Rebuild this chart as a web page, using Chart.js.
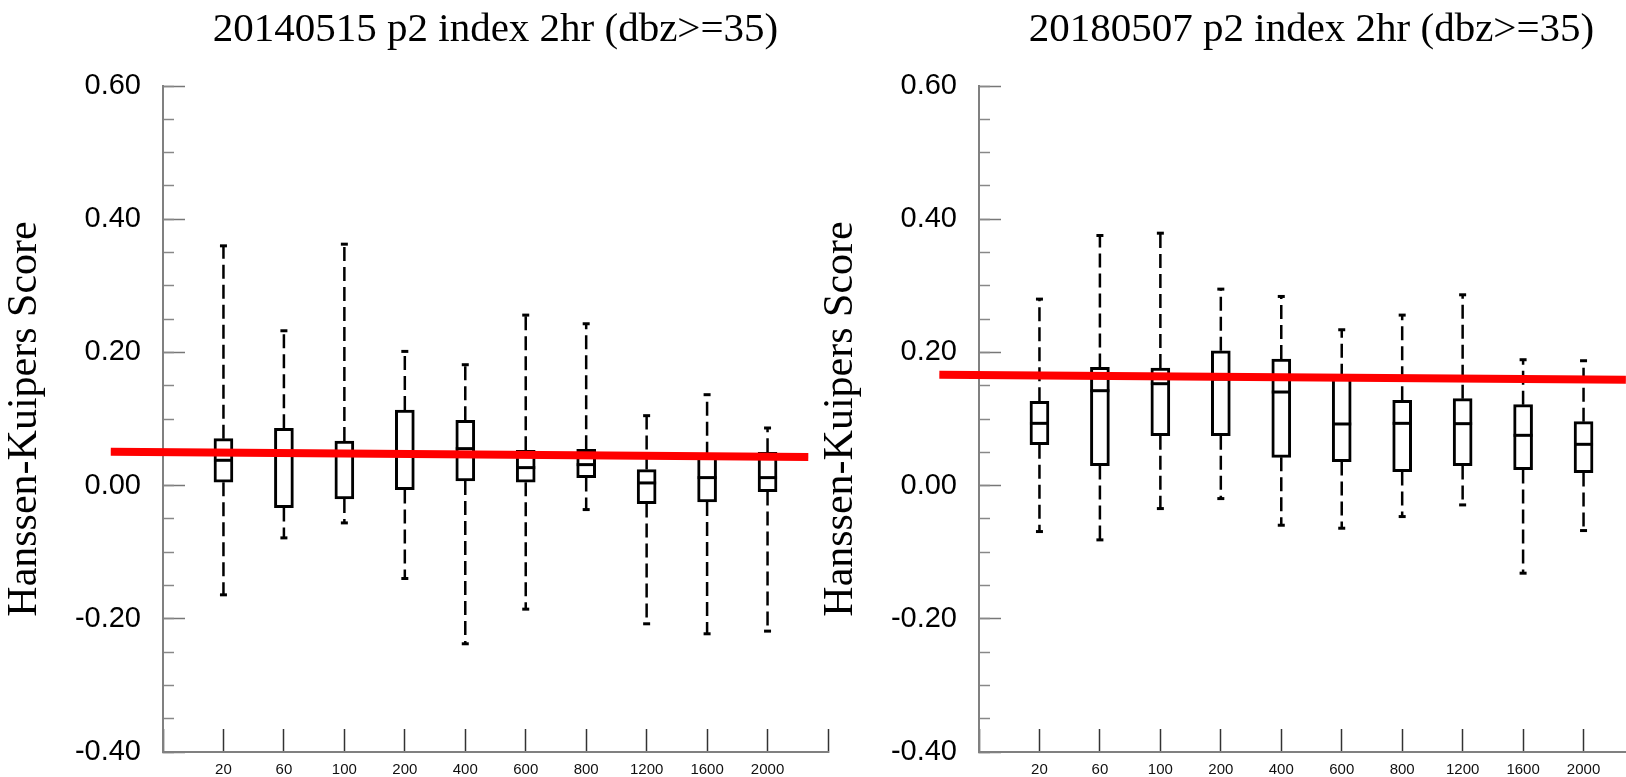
<!DOCTYPE html>
<html>
<head>
<meta charset="utf-8">
<title>Hanssen-Kuipers Score p2 index 2hr</title>
<script src="https://cdn.jsdelivr.net/npm/chart.js@4.4.1/dist/chart.umd.min.js"></script>
<style>
  html, body { margin: 0; padding: 0; background: #fff; overflow: hidden; }
  .page { position: relative; width: 1626px; height: 777px; overflow: hidden; }
  .panel { position: absolute; top: 0; }
</style>
</head>
<body>
<div class="page">
  <canvas id="case2014" class="panel" width="860" height="777" style="left:0"></canvas>
  <canvas id="case2018" class="panel" width="860" height="777" style="left:816px"></canvas>
</div>
<script>
// radius categories along the x axis
const sizes = ['20', '60', '100', '200', '400', '600', '800', '1200', '1600', '2000'];

// 20140515 box statistics
const max2014 = [0.360, 0.2325, 0.3625, 0.2015, 0.1815, 0.256, 0.243, 0.105, 0.1365, 0.0865];
const q3_2014 = [0.0705, 0.086, 0.067, 0.1135, 0.098, 0.053, 0.0545, 0.024, 0.045, 0.050];
const med2014 = [0.038, 0.049, 0.048, 0.047, 0.0555, 0.027, 0.0315, 0.004, 0.012, 0.012];
const q1_2014 = [0.005, -0.033, -0.020, -0.006, 0.007, 0.005, 0.012, -0.027, -0.0245, -0.009];
const min2014 = [-0.164, -0.0785, -0.056, -0.1395, -0.2375, -0.1855, -0.036, -0.2075, -0.2225, -0.2185];
const trendX2014 = [-0.864, 10.674];
const trendY2014 = [0.0507, 0.0428];

// 20180507 box statistics
const max2018 = [0.280, 0.3755, 0.379, 0.295, 0.284, 0.234, 0.256, 0.2865, 0.189, 0.1875];
const q3_2018 = [0.1265, 0.1775, 0.1765, 0.2025, 0.190, 0.162, 0.128, 0.1305, 0.1215, 0.096];
const med2018 = [0.0935, 0.1425, 0.153, 0.160, 0.1405, 0.0925, 0.0935, 0.093, 0.0755, 0.062];
const q1_2018 = [0.0615, 0.030, 0.075, 0.075, 0.0425, 0.036, 0.021, 0.030, 0.024, 0.0195];
const min2018 = [-0.069, -0.0815, -0.0345, -0.0195, -0.0595, -0.064, -0.0465, -0.029, -0.1315, -0.0675];
const trendX2018 = [-0.656, 10.7];
const trendY2018 = [0.1665, 0.159];

function boxChart(id, title, mx, q3, med, q1, mn, trendX, trendY) {
  const pos = sizes.map((s, i) => i + 1);
  const boxes = pos.map((x, i) => ({x: x, y: [q1[i], q3[i]]}));
  const medians = pos.map((x, i) => ({x: x, y: med[i]}));
  const caps = pos.flatMap((x, i) => [{x: x, y: mx[i]}, {x: x, y: mn[i]}]);
  // null points split the whiskers into separate dashed pieces
  const whiskers = pos.flatMap((x, i) => [
    {x: x, y: q3[i]}, {x: x, y: mx[i]}, {x: x, y: null},
    {x: x, y: q1[i]}, {x: x, y: mn[i]}, {x: x, y: null}
  ]);
  const trend = trendX.map((x, i) => ({x: x, y: trendY[i]}));

  return new Chart(document.getElementById(id), {
    type: 'bar',
    data: {
      datasets: [
        { type: 'line', data: trend, xAxisID: 'x', yAxisID: 'y', borderColor: '#ff0000', borderWidth: 8,
          pointRadius: 0, clip: false, order: 0 },
        { type: 'scatter', data: medians, xAxisID: 'x', yAxisID: 'y', pointStyle: 'line', pointRadius: 9.5,
          pointBorderWidth: 3, pointBorderColor: '#000', order: 1 },
        { type: 'scatter', data: caps, xAxisID: 'x', yAxisID: 'y', pointStyle: 'line', pointRadius: 3.5,
          pointBorderWidth: 3, pointBorderColor: '#000', order: 2 },
        { type: 'line', data: whiskers, xAxisID: 'x', yAxisID: 'y', borderColor: '#000', borderWidth: 2.5,
          borderDash: [14, 6], pointRadius: 0, spanGaps: false, order: 3 },
        { type: 'bar', data: boxes, xAxisID: 'x', yAxisID: 'y', backgroundColor: '#fff', borderColor: '#000',
          borderWidth: 3, borderSkipped: false, barThickness: 19, order: 4 }
      ]
    },
    options: {
      responsive: false,
      animation: false,
      events: [],
      layout: { padding: { left: 0, right: 31, top: 0, bottom: 0 } },
      plugins: {
        legend: { display: false },
        tooltip: { enabled: false },
        title: {
          display: true, text: title, fullSize: false, color: '#000',
          font: { family: 'Liberation Serif', size: 41, weight: 'normal' },
          padding: { top: 6, bottom: 30.8 }
        }
      },
      scales: {
        x: {
          type: 'linear', min: 0, max: 11, offset: false,
          grid: { drawOnChartArea: false, offset: false, tickLength: -23, tickColor: '#333', tickWidth: 1.5 },
          border: { color: '#808080', width: 2 },
          ticks: {
            stepSize: 1, autoSkip: false, maxRotation: 0, minRotation: 0, padding: 32, color: '#111',
            font: { family: 'Liberation Sans', size: 15 },
            callback: v => sizes[Math.round(v) - 1] || ''
          },
          afterFit: s => { s.height = 25; }
        },
        y: {
          type: 'linear', position: 'left', min: -0.4, max: 0.6, weight: 1,
          grid: { drawOnChartArea: false, tickLength: -22, tickColor: '#777', tickWidth: 1.5 },
          border: { color: '#808080', width: 2 },
          ticks: {
            stepSize: 0.2, padding: 44, color: '#000',
            font: { family: 'Liberation Sans', size: 29 },
            callback: v => (Math.round(v * 100) / 100).toFixed(2)
          },
          title: {
            display: true, text: 'Hanssen-Kuipers Score', color: '#000',
            font: { family: 'Liberation Serif', size: 42, weight: 'normal' },
            padding: { top: 0, bottom: 0 }
          },
          // fixed axis width; label padding must not push the plot area in
          afterFit: s => { s.width = 163; s.paddingTop = 0; s.paddingBottom = 0; }
        },
        yMinor: {
          type: 'linear', axis: 'y', position: 'left', min: -0.4, max: 0.6, weight: 0,
          grid: { drawOnChartArea: false, tickLength: -11, tickColor: '#888', tickWidth: 1.5 },
          border: { display: false },
          ticks: { stepSize: 0.05, display: false },
          afterFit: s => { s.width = 0; s.paddingTop = 0; s.paddingBottom = 0; }
        }
      }
    }
  });
}

boxChart('case2014', '20140515 p2 index 2hr (dbz>=35)',
  max2014, q3_2014, med2014, q1_2014, min2014, trendX2014, trendY2014);
boxChart('case2018', '20180507 p2 index 2hr (dbz>=35)',
  max2018, q3_2018, med2018, q1_2018, min2018, trendX2018, trendY2018);
</script>
</body>
</html>
